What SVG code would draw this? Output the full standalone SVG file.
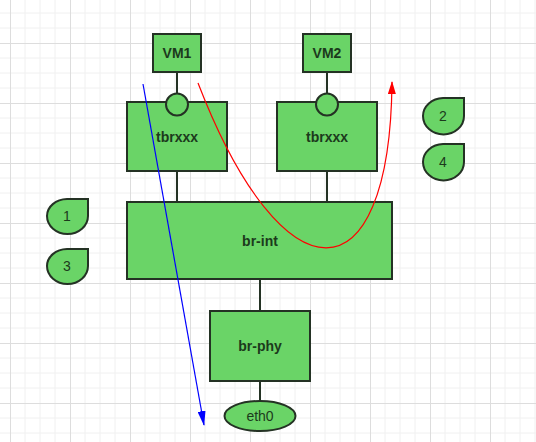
<svg xmlns="http://www.w3.org/2000/svg" width="536" height="442" viewBox="0 0 536 442">
<style>
.box{fill:#6ad467;stroke:#243224;stroke-width:2}
.wire{stroke:#243224;stroke-width:2;fill:none}
.lbl{font-family:"Liberation Sans",Arial,sans-serif;font-size:14px;font-weight:bold;fill:#1c3a1c;text-anchor:middle;dominant-baseline:central}
.lbln{font-family:"Liberation Sans",Arial,sans-serif;font-size:14px;fill:#1c3a1c;text-anchor:middle;dominant-baseline:central}
</style>
<defs>
<pattern id="grid" x="10" y="43" width="60" height="60" patternUnits="userSpaceOnUse">
<path d="M15 0V60M30 0V60M45 0V60M0 15H60M0 30H60M0 45H60" stroke="#f0f0f0" stroke-width="1" fill="none"/>
<path d="M0.5 0V60M0 0.5H60" stroke="#dddddd" stroke-width="1" fill="none"/>
</pattern>
<marker id="arrB" viewBox="0 0 15 8" refX="14" refY="4" markerWidth="15" markerHeight="8" markerUnits="userSpaceOnUse" orient="auto" preserveAspectRatio="none"><path d="M0 0L15 4L0 8Z" fill="#0000ff"/></marker>
<marker id="arrR" viewBox="0 0 13 8" refX="12" refY="4" markerWidth="13" markerHeight="8" markerUnits="userSpaceOnUse" orient="auto" preserveAspectRatio="none"><path d="M0 0L13 4L0 8Z" fill="#ff0000"/></marker>
</defs>
<rect width="536" height="442" fill="#ffffff"/>
<rect width="536" height="442" fill="url(#grid)"/>

<g id="connectors">
<path class="wire" d="M177 72V95"/>
<path class="wire" d="M327 72V95"/>
<path class="wire" d="M177 171V202"/>
<path class="wire" d="M327 171V202"/>
<path class="wire" d="M260 279V311"/>
<path class="wire" d="M260 381V401"/>
</g>

<g id="VM1"><rect class="box" x="153" y="34" width="48" height="38"/><text class="lbl" x="177" y="53">VM1</text></g>
<g id="VM2"><rect class="box" x="303" y="34" width="48" height="38"/><text class="lbl" x="327" y="53">VM2</text></g>
<g id="tbr1"><rect class="box" x="127" y="102" width="100" height="69"/><circle class="box" cx="177" cy="104.5" r="11"/><text class="lbl" x="177" y="137">tbrxxx</text></g>
<g id="tbr2"><rect class="box" x="277" y="102" width="100" height="69"/><circle class="box" cx="327" cy="104.5" r="11"/><text class="lbl" x="327" y="137">tbrxxx</text></g>
<g id="brint"><rect class="box" x="127" y="202" width="265" height="77"/><text class="lbl" x="260" y="241">br-int</text></g>
<g id="brphy"><rect class="box" x="210" y="311" width="100" height="70"/><text class="lbl" x="260" y="346">br-phy</text></g>
<g id="eth0"><ellipse class="box" cx="260" cy="416" rx="35.5" ry="15"/><text class="lbln" x="260" y="416">eth0</text></g>

<g id="tag1"><path class="box" d="M67 199H88V216A20.5 18 0 0 1 67.5 234A20.5 18 0 0 1 47 216A20.5 17 0 0 1 67 199Z"/><text class="lbln" x="67" y="216">1</text></g>
<g id="tag3"><path class="box" d="M67 249H88V266A20.5 18 0 0 1 67.5 284A20.5 18 0 0 1 47 266A20.5 17 0 0 1 67 249Z"/><text class="lbln" x="67" y="266">3</text></g>
<g id="tag2"><path class="box" d="M443 98H464V116A20.5 18.5 0 0 1 443.5 134.5A20.5 18.5 0 0 1 423 116A20.5 18 0 0 1 443 98Z"/><text class="lbln" x="443" y="116">2</text></g>
<g id="tag4"><path class="box" d="M443 144H464V162A20.5 18.5 0 0 1 443.5 180.5A20.5 18.5 0 0 1 423 162A20.5 18 0 0 1 443 144Z"/><text class="lbln" x="443" y="162">4</text></g>

<g id="flows">
<path d="M143 84L204 425" stroke="#0000ff" stroke-width="1.2" fill="none" marker-end="url(#arrB)"/>
<path d="M198 83C283 303 390 303 392 82" stroke="#ff0000" stroke-width="1.2" fill="none" marker-end="url(#arrR)"/>
</g>
</svg>
